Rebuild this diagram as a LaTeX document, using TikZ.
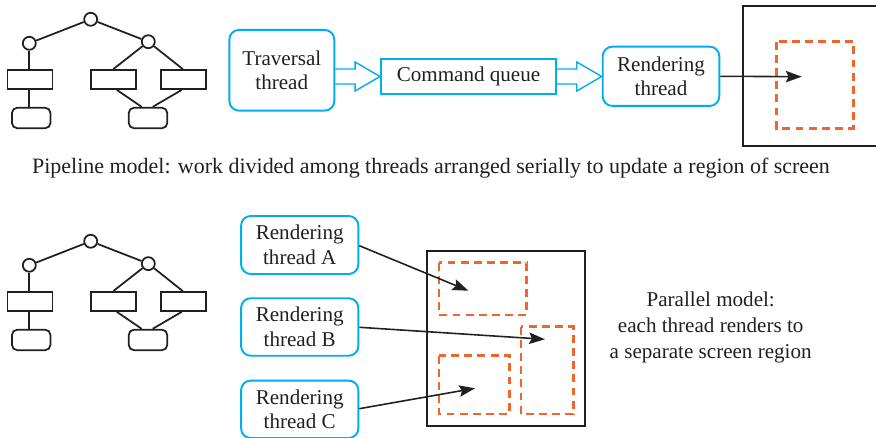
\documentclass[tikz,border=0pt]{standalone}
\usepackage{fontspec}
\setmainfont{Liberation Serif}
\usetikzlibrary{arrows.meta,calc}
\definecolor{cy}{RGB}{0,174,239}
\definecolor{og}{RGB}{240,100,45}
\definecolor{ink}{RGB}{35,31,32}
\begin{document}
\begin{tikzpicture}[x=0.02cm,y=-0.02cm,
  every node/.style={font=\fontsize{12}{14.2}\selectfont, text=ink},
  thread/.style={draw=cy, line width=1.1pt, rounded corners=5.5pt, align=center, inner sep=0pt},
  queue/.style={draw=cy, line width=1.1pt, inner sep=0pt},
  blockarrow/.style={draw=cy, line width=0.8pt, line join=miter},
  region/.style={draw=og, line width=1.4pt, dash pattern=on 4.5pt off 3pt},
  screen/.style={draw=ink, line width=1.2pt},
  feed/.style={draw=ink, line width=0.9pt, -{Stealth[length=9pt,width=6.5pt,inset=1.5pt]}},
  tnode/.style={circle, draw=ink, line width=1pt, minimum size=0.26cm, inner sep=0pt},
  tbox/.style={rectangle, draw=ink, line width=1pt, minimum width=0.9cm, minimum height=0.38cm, inner sep=0pt},
  tleaf/.style={rectangle, rounded corners=3pt, draw=ink, line width=1pt, minimum width=0.77cm, minimum height=0.41cm, inner sep=0pt},
  tedge/.style={draw=ink, line width=1pt}]
\useasboundingbox (0,0) rectangle (876,438);

% ---- two scene trees ----
\foreach \p/\o in {t/0,b/4.44} {
\begin{scope}[yshift=-\o cm]
  \node[tnode] (\p c0) at (90.7,19.3) {};
  \node[tnode] (\p cL) at (29.3,43.3) {};
  \node[tnode] (\p cR) at (148.3,41.7) {};
  \node[tbox] (\p rL) at (30,79.5) {};
  \node[tbox] (\p rM) at (113.3,79.5) {};
  \node[tbox] (\p rR) at (183.8,79.5) {};
  \node[tleaf] (\p bL) at (31.2,118) {};
  \node[tleaf] (\p bR) at (148,118) {};
  \draw[tedge] (\p c0) -- (\p cL);
  \draw[tedge] (\p c0) -- (\p cR);
  \draw[tedge] (\p cL) -- (\p cL |- \p rL.north);
  \draw[tedge] (\p cR) -- (\p rM.north);
  \draw[tedge] (\p cR) -- ([xshift=-0.02cm]\p rR.north);
  \draw[tedge] (\p rL.south -| \p cL) -- (\p bL.north -| \p cL);
  \draw[tedge] ([xshift=0.07cm]\p rM.south) -- ([xshift=-0.126cm]\p bR.north);
  \draw[tedge] ([xshift=-0.04cm]\p rR.south) -- ([xshift=0.094cm]\p bR.north);
\end{scope}
}

% ---- pipeline model ----
\node[thread, minimum width=2.1cm, minimum height=1.614cm] (trav) at (281.8,70.3) {Traversal\\thread};
\node[queue, minimum width=3.5cm, minimum height=0.7cm] (cq) at (468.5,76.5) {Command queue};
\node[thread, minimum width=2.332cm, minimum height=1.186cm] (rend) at (661,76.3) {Rendering\\thread};

\draw[blockarrow] ($(trav.east |- cq.west)+(0,-7.5)$) -- ($(cq.west)+(-25,-7.5)$) -- ($(cq.west)+(-25,-14.5)$)
  -- (cq.west) -- ($(cq.west)+(-25,14.5)$) -- ($(cq.west)+(-25,7.5)$) -- ($(trav.east |- cq.west)+(0,7.5)$);
\coordinate (rtip) at (rend.west |- cq.east);
\draw[blockarrow] ($(cq.east)+(0,-7.5)$) -- ($(rtip)+(-25,-7.5)$) -- ($(rtip)+(-25,-14.5)$)
  -- (rtip) -- ($(rtip)+(-25,14.5)$) -- ($(rtip)+(-25,7.5)$) -- ($(cq.east)+(0,7.5)$);

\draw[screen] (880,6) -- (742.7,6) -- (742.7,146) -- (880,146);
\draw[region] (776.7,41.7) rectangle (853.3,128.3);
\coordinate (ptgt) at (801.7,76.7);
\draw[feed] (rend.east) -- (ptgt);

\node[font=\fontsize{12.5}{15}\selectfont] (cap1) at (431,168) {Pipeline model: work divided among threads arranged serially to update a region of screen};

% ---- parallel model ----
\node[thread, minimum width=2.346cm, minimum height=1.16cm] (rA) at (299.7,245) {Rendering\\thread A};
\node[thread, minimum width=2.346cm, minimum height=1.15cm] (rB) at (299.7,327) {Rendering\\thread B};
\node[thread, minimum width=2.346cm, minimum height=1.15cm] (rC) at (299.7,409.3) {Rendering\\thread C};

\draw[screen] (427.3,250.7) rectangle (585,426);
\draw[region] (439,262.7) rectangle (526.7,315);
\draw[region] (521,326.7) rectangle (573.3,414);
\draw[region] (439,355.7) rectangle (509.3,414);

\coordinate (tA) at (468.3,290.7);
\coordinate (tB) at (545,339.3);
\coordinate (tC) at (475,388.3);
\draw[feed] ([yshift=-0.014cm]rA.east) -- (tA);
\draw[feed] ([yshift=-0.006cm]rB.east) -- (tB);
\draw[feed] ([yshift=0.012cm]rC.east) -- (tC);

\node[align=center, font=\fontsize{12}{14.6}\selectfont] (cap2) at (710.7,327.5) {Parallel model:\\each thread renders to\\a separate screen region};
\end{tikzpicture}
\end{document}
